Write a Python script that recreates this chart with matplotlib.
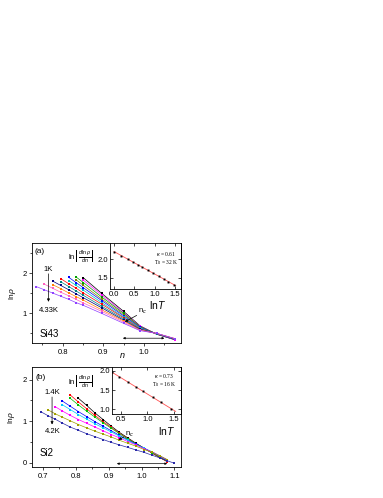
import numpy as np
import matplotlib
matplotlib.use('Agg')
import matplotlib.pyplot as plt

plt.rcParams['font.family'] = ['Liberation Sans', 'DejaVu Sans']
plt.rcParams['mathtext.fontset'] = 'custom'
plt.rcParams['mathtext.rm'] = 'Liberation Sans'
plt.rcParams['mathtext.it'] = 'Liberation Sans:italic'

# ---- panel (a): Si43, ln(rho) vs n, T = 1K ... 4.33K ----
a_n = [0.735, 0.755, 0.775, 0.795, 0.815, 0.833, 0.851, 0.896, 0.95, 0.99, 1.031, 1.076]
a_lines = [
    [None, None, None, None, None, None, 1.88, 1.49, 1.04, 0.68, 0.47, 0.33],
    [None, None, None, None, None, None, 1.82, 1.45, 1.01, 0.67, 0.47, 0.33],
    [None, None, None, None, None, 1.90, 1.76, 1.40, 0.99, 0.66, 0.47, 0.34],
    [None, None, None, None, None, 1.83, 1.69, 1.35, 0.96, 0.65, 0.48, 0.34],
    [None, None, None, None, 1.89, 1.76, 1.63, 1.31, 0.93, 0.64, 0.48, 0.34],
    [None, None, None, None, 1.81, 1.69, 1.57, 1.26, 0.90, 0.63, 0.48, 0.34],
    [None, None, None, 1.86, 1.73, 1.62, 1.50, 1.22, 0.88, 0.61, 0.48, 0.35],
    [None, None, None, 1.78, 1.66, 1.55, 1.44, 1.17, 0.85, 0.60, 0.48, 0.35],
    [None, None, 1.80, 1.69, 1.58, 1.48, 1.38, 1.13, 0.82, 0.59, 0.49, 0.35],
    [None, None, 1.71, 1.61, 1.50, 1.41, 1.32, 1.08, 0.80, 0.58, 0.49, 0.36],
    [None, 1.72, 1.62, 1.52, 1.43, 1.34, 1.25, 1.04, 0.77, 0.57, 0.49, 0.36],
    [1.66, 1.58, 1.50, 1.42, 1.34, 1.26, 1.19, 0.99, 0.74, 0.56, 0.49, 0.36],
]
a_colors = ['black', '#ff00ff', '#00a000', '#808000', '#0000ff', '#00c0c0',
            '#ff0000', '#008080', '#000080', '#ff8000', '#ff60c0', '#9040ff']

a_lnT = [0.0, 0.18, 0.34, 0.47, 0.59, 0.69, 0.83, 0.96, 1.10, 1.22, 1.34, 1.47]
a_dlog = [2.20, 2.09, 2.00, 1.92, 1.85, 1.79, 1.70, 1.62, 1.54, 1.47, 1.40, 1.32]

# ---- panel (b): Si2, T = 1.4K ... 4.2K ----
b_n = [0.693, 0.716, 0.737, 0.758, 0.783, 0.808, 0.833, 0.858, 0.883, 0.908,
       0.933, 0.958, 0.983, 1.008, 1.033, 1.055, 1.078, 1.10]
b_lines = [
    [None, None, None, None, None, 1.55, 1.38, 1.20, 1.04, 0.88, 0.73, 0.60, 0.47, 0.35, 0.23, 0.13, 0.03, None],
    [None, None, None, None, 1.63, 1.46, 1.30, 1.14, 0.99, 0.85, 0.71, 0.58, 0.46, 0.35, 0.23, 0.13, 0.03, None],
    [None, None, None, None, 1.55, 1.39, 1.24, 1.10, 0.96, 0.83, 0.70, 0.57, 0.46, 0.35, 0.24, 0.14, 0.04, None],
    [None, None, None, 1.49, 1.36, 1.23, 1.11, 0.99, 0.88, 0.77, 0.66, 0.55, 0.45, 0.35, 0.25, 0.16, 0.06, None],
    [None, None, None, 1.40, 1.28, 1.16, 1.05, 0.94, 0.84, 0.74, 0.64, 0.54, 0.44, 0.35, 0.26, 0.17, 0.07, None],
    [None, None, 1.35, 1.25, 1.14, 1.04, 0.95, 0.86, 0.77, 0.68, 0.60, 0.51, 0.43, 0.34, 0.26, 0.17, 0.07, None],
    [None, 1.27, 1.18, 1.10, 1.01, 0.92, 0.84, 0.76, 0.69, 0.62, 0.54, 0.47, 0.40, 0.32, 0.25, 0.17, 0.08, None],
    [1.23, 1.13, 1.05, 0.96, 0.86, 0.78, 0.70, 0.63, 0.56, 0.49, 0.43, 0.37, 0.31, 0.25, 0.18, 0.12, 0.05, -0.01],
]
b_colors = ['black', '#ff0000', '#00c000', '#0000ff', '#00c8ff', '#ff00ff', '#a0a000', '#2828a8']

b_lnT = [0.34, 0.47, 0.64, 0.79, 0.92, 1.10, 1.25, 1.44]
b_dlog = [1.96, 1.85, 1.70, 1.58, 1.47, 1.31, 1.19, 1.02]

W, H = 383, 498


def rect(l, t, r, b):
    return [l / W, 1 - b / H, (r - l) / W, (b - t) / H]


def style_main(ax):
    for s in ax.spines.values():
        s.set_linewidth(0.6)
    ax.tick_params(which='both', direction='out', labelsize=5.5, width=0.5, pad=1.5)
    ax.tick_params(which='major', length=2.5)
    ax.tick_params(which='minor', length=1.5)


def style_inset(ax):
    for s in ax.spines.values():
        s.set_linewidth(0.6)
    ax.tick_params(which='both', direction='in', labelsize=5.5, width=0.5, pad=1.5,
                   top=True, right=True, length=2)


fig = plt.figure(figsize=(W / 100, H / 100), dpi=100)

# ================= panel (a) =================
ax1 = fig.add_axes(rect(32, 243, 181, 343))
for ys, c in zip(a_lines, a_colors):
    ax1.plot(a_n, np.array(ys, dtype=float), '-s', color=c, lw=0.5, ms=1.6, mew=0)
ax1.set_xlim(0.7245, 1.091)
ax1.set_ylim(0.25, 2.75)
ax1.set_xticks([0.8, 0.9, 1.0])
ax1.set_xticks([0.75, 0.85, 0.95, 1.05], minor=True)
ax1.set_yticks([1, 2])
ax1.set_yticks([0.5, 1.5, 2.5], minor=True)
style_main(ax1)
ax1.set_ylabel(r'ln$\rho$', fontsize=6, labelpad=3)

ax1.text(0.742, 2.54, '(a)', fontsize=6, ha='center', va='center')
ax1.text(0.765, 2.09, '1K', fontsize=5.5, ha='center', va='center')
ax1.annotate('', xy=(0.765, 1.28), xytext=(0.765, 1.98),
             arrowprops=dict(arrowstyle='-|>', lw=0.5, color='black',
                             mutation_scale=4, shrinkA=0, shrinkB=0))
ax1.text(0.767, 1.07, '4.33K', fontsize=5.5, ha='center', va='center')
ax1.text(0.767, 0.47, 'Si43', fontsize=7, ha='center', va='center')
ax1.annotate('', xy=(0.953, 0.78), xytext=(0.982, 0.94),
             arrowprops=dict(arrowstyle='-|>', lw=0.5, color='black',
                             mutation_scale=4, shrinkA=0, shrinkB=0))
ax1.text(0.995, 1.03, r'n$_c$', fontsize=5.5, ha='center', va='center')
ax1.annotate('', xy=(0.948, 0.37), xytext=(1.050, 0.37),
             arrowprops=dict(arrowstyle='<|-|>', lw=0.5, color='black',
                             mutation_scale=3, shrinkA=0, shrinkB=0))
fig.text(122.7 / W, 1 - 355 / H, 'n', fontsize=6.5, style='italic', ha='center', va='center')

ins1 = fig.add_axes(rect(110, 243, 181, 289))
fit1 = np.polyfit(a_lnT, a_dlog, 1)
xf1 = np.array([0.0, 1.52])
ins1.plot(xf1, np.polyval(fit1, xf1), color='#ff5050', lw=0.6)
ins1.plot(a_lnT, a_dlog, 's', color='black', ms=1.4, mew=0)
ins1.set_xlim(-0.1, 1.65)
ins1.set_ylim(1.2, 2.43)
ins1.set_xticks([0.0, 0.5, 1.0, 1.5])
ins1.set_yticks([1.5, 2.0])
style_inset(ins1)
ins1.text(0.79, 0.76, r'$\kappa$ = 0.61', transform=ins1.transAxes, fontsize=4,
          family='Liberation Serif', ha='center', va='center')
ins1.text(0.79, 0.57, r'T$_0$ = 32 K', transform=ins1.transAxes, fontsize=4,
          family='Liberation Serif', ha='center', va='center')
fig.text(158 / W, 1 - 305 / H, r'ln$T$', fontsize=7.5, ha='center', va='center')
fig.text(81 / W, 1 - 256 / H, r'$\ln\left|\frac{d\,\ln\rho}{dn}\right|$', fontsize=5.5,
         ha='center', va='center')

# ================= panel (b) =================
ax2 = fig.add_axes(rect(32, 367, 181, 467))
for ys, c in zip(b_lines, b_colors):
    ax2.plot(b_n, np.array(ys, dtype=float), '-s', color=c, lw=0.5, ms=1.6, mew=0)
ax2.set_xlim(0.667, 1.12)
ax2.set_ylim(-0.1, 2.3)
ax2.set_xticks([0.7, 0.8, 0.9, 1.0, 1.1])
ax2.set_xticks([0.75, 0.85, 0.95, 1.05], minor=True)
ax2.set_yticks([0, 1, 2])
ax2.set_yticks([0.5, 1.5], minor=True)
style_main(ax2)
ax2.set_ylabel(r'ln$\rho$', fontsize=6, labelpad=4)

ax2.text(0.694, 2.06, '(b)', fontsize=6, ha='center', va='center')
ax2.text(0.728, 1.70, '1.4K', fontsize=5.5, ha='center', va='center')
ax2.annotate('', xy=(0.728, 0.92), xytext=(0.728, 1.58),
             arrowprops=dict(arrowstyle='-|>', lw=0.5, color='black',
                             mutation_scale=4, shrinkA=0, shrinkB=0))
ax2.text(0.730, 0.75, '4.2K', fontsize=5.5, ha='center', va='center')
ax2.text(0.712, 0.24, 'Si2', fontsize=7, ha='center', va='center')
ax2.annotate('', xy=(0.930, 0.55), xytext=(0.946, 0.62),
             arrowprops=dict(arrowstyle='-|>', lw=0.5, color='black',
                             mutation_scale=4, shrinkA=0, shrinkB=0))
ax2.text(0.962, 0.68, r'n$_c$', fontsize=5.5, ha='center', va='center')
ax2.annotate('', xy=(0.925, -0.02), xytext=(1.078, -0.02),
             arrowprops=dict(arrowstyle='<|-|>', lw=0.5, color='black',
                             mutation_scale=3, shrinkA=0, shrinkB=0))

ins2 = fig.add_axes(rect(111.7, 367, 181, 414))
fit2 = np.polyfit(b_lnT, b_dlog, 1)
xf2 = np.array([0.34, 1.53])
ins2.plot(xf2, np.polyval(fit2, xf2), color='#ff5050', lw=0.6)
ins2.plot(b_lnT, b_dlog, 's', color='black', ms=1.4, mew=0)
ins2.set_xlim(0.33, 1.63)
ins2.set_ylim(0.88, 2.1)
ins2.set_xticks([0.5, 1.0, 1.5])
ins2.set_yticks([1.0, 1.5, 2.0])
style_inset(ins2)
ins2.text(0.75, 0.80, r'$\kappa$ = 0.73', transform=ins2.transAxes, fontsize=4,
          family='Liberation Serif', ha='center', va='center')
ins2.text(0.75, 0.63, r'T$_0$ = 16 K', transform=ins2.transAxes, fontsize=4,
          family='Liberation Serif', ha='center', va='center')
fig.text(166.7 / W, 1 - 431 / H, r'ln$T$', fontsize=7.5, ha='center', va='center')
fig.text(81 / W, 1 - 381 / H, r'$\ln\left|\frac{d\,\ln\rho}{dn}\right|$', fontsize=5.5,
         ha='center', va='center')

fig.savefig('out.png', dpi=100)
